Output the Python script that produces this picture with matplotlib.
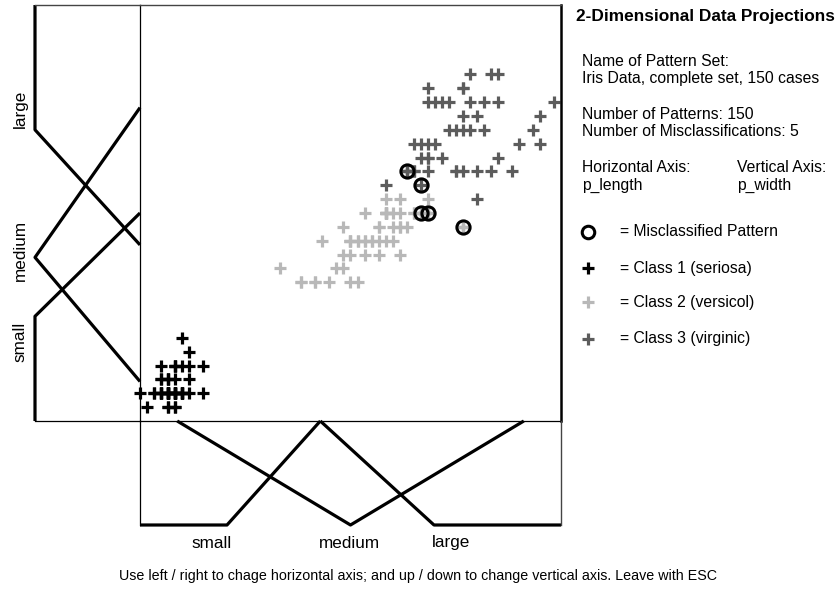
import matplotlib
matplotlib.use("Agg")
import matplotlib.pyplot as plt
import matplotlib.transforms as mtrans

plt.rcParams['font.family'] = ['Liberation Sans', 'DejaVu Sans']

# ---------------- data (Iris petal length / width) ----------------
setosa_length = [1.4, 1.4, 1.3, 1.5, 1.4, 1.7, 1.4, 1.5, 1.4, 1.5, 1.5, 1.6, 1.4, 1.1, 1.2,
                 1.5, 1.3, 1.4, 1.7, 1.5, 1.7, 1.5, 1.0, 1.7, 1.9, 1.6, 1.6, 1.5, 1.4, 1.6,
                 1.6, 1.5, 1.5, 1.4, 1.5, 1.2, 1.3, 1.4, 1.3, 1.5, 1.3, 1.3, 1.3, 1.6, 1.9,
                 1.4, 1.6, 1.4, 1.5, 1.4]
setosa_width = [0.2, 0.2, 0.2, 0.2, 0.2, 0.4, 0.3, 0.2, 0.2, 0.1, 0.2, 0.2, 0.1, 0.1, 0.2,
                0.4, 0.4, 0.3, 0.3, 0.3, 0.2, 0.4, 0.2, 0.5, 0.2, 0.2, 0.4, 0.2, 0.2, 0.2,
                0.2, 0.4, 0.1, 0.2, 0.2, 0.2, 0.2, 0.1, 0.2, 0.2, 0.3, 0.3, 0.2, 0.6, 0.4,
                0.3, 0.2, 0.2, 0.2, 0.2]
versicol_length = [4.7, 4.5, 4.9, 4.0, 4.6, 4.5, 4.7, 3.3, 4.6, 3.9, 3.5, 4.2, 4.0, 4.7, 3.6,
                   4.4, 4.5, 4.1, 4.5, 3.9, 4.8, 4.0, 4.9, 4.7, 4.3, 4.4, 4.8, 5.0, 4.5, 3.5,
                   3.8, 3.7, 3.9, 5.1, 4.5, 4.5, 4.7, 4.4, 4.1, 4.0, 4.4, 4.6, 4.0, 3.3, 4.2,
                   4.2, 4.2, 4.3, 3.0, 4.1]
versicol_width = [1.4, 1.5, 1.5, 1.3, 1.5, 1.3, 1.6, 1.0, 1.3, 1.4, 1.0, 1.5, 1.0, 1.4, 1.3,
                  1.4, 1.5, 1.0, 1.5, 1.1, 1.8, 1.3, 1.5, 1.2, 1.3, 1.4, 1.4, 1.7, 1.5, 1.0,
                  1.1, 1.0, 1.2, 1.6, 1.5, 1.6, 1.5, 1.3, 1.3, 1.3, 1.2, 1.4, 1.2, 1.0, 1.3,
                  1.2, 1.3, 1.3, 1.1, 1.3]
virginic_length = [6.0, 5.1, 5.9, 5.6, 5.8, 6.6, 4.5, 6.3, 5.8, 6.1, 5.1, 5.3, 5.5, 5.0, 5.1,
                   5.3, 5.5, 6.7, 6.9, 5.0, 5.7, 4.9, 6.7, 4.9, 5.7, 6.0, 4.8, 4.9, 5.6, 5.8,
                   6.1, 6.4, 5.6, 5.1, 5.6, 6.1, 5.6, 5.5, 4.8, 5.4, 5.6, 5.1, 5.1, 5.9, 5.7,
                   5.2, 5.0, 5.2, 5.4, 5.1]
virginic_width = [2.5, 1.9, 2.1, 1.8, 2.2, 2.1, 1.7, 1.8, 1.8, 2.5, 2.0, 1.9, 2.1, 2.0, 2.4,
                  2.3, 1.8, 2.2, 2.3, 1.5, 2.3, 2.0, 2.0, 1.8, 2.1, 1.8, 1.8, 1.8, 2.1, 1.6,
                  1.9, 2.0, 2.2, 1.5, 1.4, 2.3, 2.4, 1.8, 1.8, 2.1, 2.4, 2.3, 1.9, 2.3, 2.5,
                  2.3, 1.9, 2.0, 2.3, 1.8]
# misclassified patterns (drawn in colour of the predicted class)
miscl_length = [4.8, 5.0, 5.0, 5.1, 5.6]
miscl_width = [1.8, 1.7, 1.5, 1.5, 1.4]
miscl_pred = [3, 3, 2, 2, 2]

# fuzzy membership functions: horizontal axis (p_length)
h_small_x, h_small_mu = [1.0, 2.24, 3.57], [1, 1, 0]
h_medium_x, h_medium_mu = [1.53, 4.0, 6.47], [0, 1, 0]
h_large_x, h_large_mu = [3.57, 5.19, 7.0], [0, 1, 1]
h_labels = ["small", "medium", "large"]
h_label_pos = [2.02, 3.99, 5.43]
# vertical axis (p_width)
v_small_y, v_small_mu = [0.0, 0.755, 1.50], [1, 1, 0]
v_medium_y, v_medium_mu = [0.285, 1.18, 2.26], [0, 1, 0]
v_large_y, v_large_mu = [1.27, 2.10, 3.0], [0, 1, 1]
v_labels = ["small", "medium", "large"]
v_label_pos = [0.57, 1.23, 2.25]

class_colors = {1: "#000000", 2: "#b8b8b8", 3: "#5c5c5c"}
class_names = ["= Class 1 (seriosa)", "= Class 2 (versicol)", "= Class 3 (virginic)"]

# ---------------- figure ----------------
W, H = 837, 589
fig = plt.figure(figsize=(W / 100, H / 100), dpi=100)


def frac(x0, y0, x1, y1):
    return [x0 / W, 1 - y1 / H, (x1 - x0) / W, (y1 - y0) / H]


L, R, T, B, BB, LL = 140, 561, 5, 421, 525, 35
ax = fig.add_axes(frac(L, T, R, B))
axl = fig.add_axes(frac(LL, T, L, B))
axb = fig.add_axes(frac(L, B, R, BB))

XLIM, YLIM = (1.0, 7.0), (0.0, 3.0)
ax.set_xlim(*XLIM)
ax.set_ylim(*YLIM)
axl.set_xlim(1, 0)
axl.set_ylim(*YLIM)
axb.set_xlim(*XLIM)
axb.set_ylim(1, 0)

for a in (ax, axl, axb):
    a.set_xticks([])
    a.set_yticks([])
    a.patch.set_alpha(0)

# spines
ax.spines['top'].set(color="#444444", lw=1.0)
ax.spines['right'].set(color="black", lw=1.8)
ax.spines['left'].set(color="black", lw=0.9)
ax.spines['bottom'].set(color="black", lw=0.9)
axl.spines['top'].set(color="#444444", lw=1.0)
axl.spines['bottom'].set(color="black", lw=0.9)
axl.spines['left'].set_visible(False)
axl.spines['right'].set_visible(False)
axb.spines['left'].set(color="black", lw=0.9)
axb.spines['right'].set(color="#444444", lw=1.0)
axb.spines['top'].set_visible(False)
axb.spines['bottom'].set_visible(False)

# scatter
pkw = dict(marker='+', ls='none', ms=8.8, mew=2.3)
ax.plot(setosa_length, setosa_width, color=class_colors[1], clip_on=False, **pkw)
ax.plot(versicol_length, versicol_width, color=class_colors[2], clip_on=False, **pkw)
ax.plot(virginic_length, virginic_width, color=class_colors[3], clip_on=False, **pkw)
for x, y, c in zip(miscl_length, miscl_width, miscl_pred):
    ax.plot([x], [y], color=class_colors[c], **pkw)
ax.plot(miscl_length, miscl_width, marker='o', ls='none', ms=9.5, mew=2.2,
        mfc='none', mec='black')

# fuzzy membership lines
fkw = dict(color='black', lw=2.3, clip_on=False, solid_capstyle='butt')
axb.plot(h_small_x, h_small_mu, **fkw)
axb.plot(h_medium_x, h_medium_mu, **fkw)
axb.plot(h_large_x, h_large_mu, **fkw)
axl.plot(v_small_mu, v_small_y, **fkw)
axl.plot(v_medium_mu, v_medium_y, **fkw)
axl.plot(v_large_mu, v_large_y, **fkw)

# membership labels
tb = mtrans.blended_transform_factory(axb.transData, fig.transFigure)
for lab, xp in zip(h_labels, h_label_pos):
    fig.text(xp, 1 - 543 / H, lab, transform=tb, ha='center', va='center', fontsize=12.3)
tl = mtrans.blended_transform_factory(fig.transFigure, axl.transData)
for lab, yp in zip(v_labels, v_label_pos):
    fig.text(20 / W, yp, lab, transform=tl, ha='center', va='center', fontsize=12.3,
             rotation=90)


# info panel
def ft(x, y, s, **kw):
    fig.text(x / W, 1 - y / H, s, va='center', ha='left', **kw)


FS = 11.3
X0, X1 = 582, 737
ft(576, 16, "2-Dimensional Data Projections", fontsize=12.4, fontweight='bold')
ft(X0, 62, "Name of Pattern Set:", fontsize=FS)
ft(X0, 79, "Iris Data, complete set, 150 cases", fontsize=FS)
ft(X0, 114, "Number of Patterns: 150", fontsize=FS)
ft(X0, 131, "Number of Misclassifications: 5", fontsize=FS)
ft(X0, 168, "Horizontal Axis:", fontsize=FS)
ft(X0, 185, "p_length", fontsize=FS)
ft(X1, 168, "Vertical Axis:", fontsize=FS)
ft(X1, 185, "p_width", fontsize=FS)

axk = fig.add_axes([0, 0, 1, 1])
axk.set_xlim(0, W)
axk.set_ylim(H, 0)
axk.axis('off')
axk.patch.set_alpha(0)
axk.plot([588], [232], marker='o', ms=9.0, mew=2.2, mfc='none', mec='black', ls='none')
ft(620, 232, "= Misclassified Pattern", fontsize=FS)
for i, (name, yy) in enumerate(zip(class_names, [268, 302, 339])):
    axk.plot([588], [yy], color=class_colors[i + 1], **pkw)
    ft(620, yy, name, fontsize=FS)

fig.text(418 / W, 1 - 576 / H,
         "Use left / right to chage horizontal axis; and up / down to change vertical axis. Leave with ESC",
         ha='center', va='center', fontsize=10.3)

fig.savefig("out.png", dpi=100, facecolor='white')
